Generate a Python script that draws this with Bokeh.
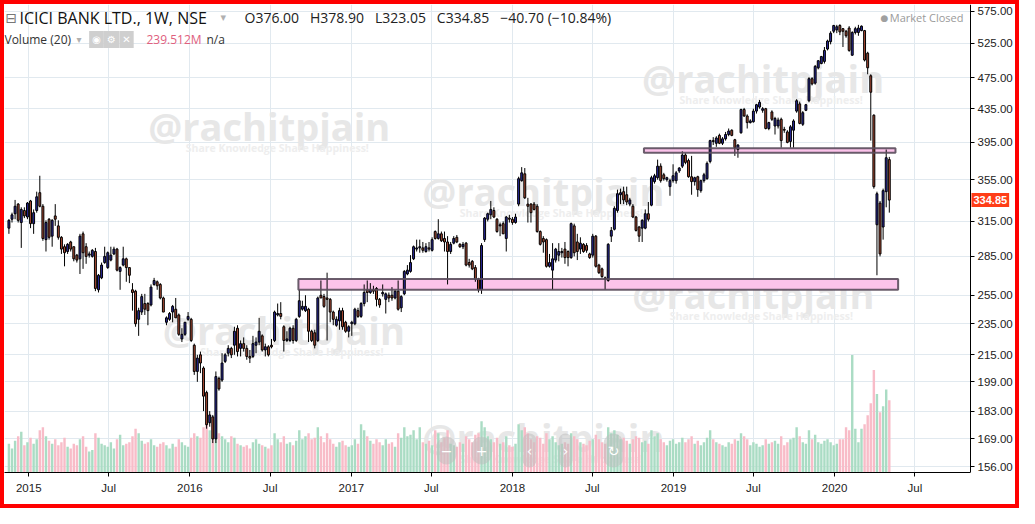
import pandas as pd
from bokeh.plotting import figure
from bokeh.models import (ColumnDataSource, FixedTicker, Range1d, LinearScale, Label,
                          NumeralTickFormatter, BoxAnnotation)
from bokeh.core.properties import value
from bokeh.embed import file_html
from bokeh.resources import INLINE

# ---------------- data (weekly candles, ICICI BANK, NSE) ----------------
opens = [309,317,322,331,314,325,319,334,313,325, 342,329,299,317,302,320,311,301,293,289,
         297,293,286,283,304,293,286,285,289,259, 268,280,276,282,287,291,273,278,283,276,
         259,258,238,243,249,249,248,263,265,263, 253,236,238,243,245,241,225,228,238,238,
         221,205,215,207,193,177,180,169,201,200, 211,216,219,221,232,219,222,219,214,214,
         221,223,227,218,220,221,224,241,242,233, 224,224,232,224,240,245,244,245,230,229,
         224,255,254,253,252,243,234,237,244,236, 230,235,235,244,240,249,259,257,259,260,
         252,256,252,255,255,253,258,246,256,271, 273,283,291,292,292,289,292,290,306,300,
         304,300,297,289,296,301,295,293,296,280, 281,276,267,259,299,317,321,325,317,311,
         313,300,318,317,314,331,354,361,331,331, 331,329,306,300,299,277,274,282,286,288,
         291,289,284,311,297,291,295,294,287,286, 302,278,275,268,266,302,308,325,340,343,
         340,331,329,319,310,309,309,322,330,353, 357,369,360,355,348,354,354,364,369,381,
         375,358,353,358,344,354,356,374,397,394, 403,394,399,404,409,398,387,406,434,426,
         418,419,432,437,433,435,411,431,414,414, 422,410,407,396,409,432,441,416,433,445,
         474,468,489,495,498,516,527,543,545,552, 547,543,548,507,541,541,544,544,510,478,
         427,312,332,310,343,376]
highs = [317,323,335,332,328,328,333,335,326,343, 359,331,316,318,317,331,316,302,295,296,
         298,293,287,304,306,296,289,291,292,271, 280,293,289,293,293,292,277,293,284,276,
         264,259,246,256,256,250,263,268,266,264, 254,240,243,248,253,242,232,236,243,239,
         222,215,217,208,194,183,181,205,202,216, 216,221,220,233,234,224,226,221,218,227,
         226,239,228,222,221,225,244,249,250,234, 230,233,234,239,259,251,255,246,231,231,
         254,266,256,272,253,244,240,246,246,237, 234,237,246,246,250,263,266,264,262,261,
         253,263,257,257,261,259,266,255,274,278, 286,294,299,299,297,296,297,301,307,317,
         306,306,302,297,302,303,296,297,297,283, 282,278,268,296,319,323,334,328,318,314,
         315,320,321,319,322,358,368,367,337,332, 333,331,307,302,300,287,296,292,296,292,
         297,290,314,313,304,301,296,296,288,304, 303,279,276,269,296,310,329,345,346,348,
         348,337,331,320,311,317,326,333,359,361, 376,372,362,358,356,371,364,368,385,383,
         377,380,358,359,355,362,374,398,401,402, 405,401,407,411,410,399,393,435,436,428,
         422,435,441,446,437,436,419,433,425,424, 424,413,409,415,422,447,444,432,441,476,
         476,493,500,506,519,530,543,553,553,554, 548,545,551,543,550,553,552,545,512,480,
         428,343,334,346,387,378.9]
lows = [304,314,317,314,292,318,317,309,304,323, 328,298,289,299,293,311,299,287,277,287,
        289,281,280,271,275,279,284,284,258,257, 267,279,275,281,286,273,259,277,265,264,
        244,233,227,241,241,234,247,262,259,252, 243,234,237,236,239,227,223,227,237,223,
        203,199,204,183,174,175,167,167,194,199, 210,214,213,215,214,214,217,212,210,213,
        216,221,217,214,214,219,223,240,238,217, 223,223,222,223,239,244,243,223,223,219,
        223,253,246,224,236,234,233,231,231,229, 226,227,234,239,239,247,250,256,256,247,
        246,254,242,250,251,252,244,243,255,270, 272,282,289,288,288,288,289,289,299,299,
        297,289,263,287,295,296,292,291,277,276, 274,265,257,256,297,315,317,318,305,302,
        304,289,314,312,313,329,353,336,314,314, 325,305,294,288,276,276,259,280,281,284,
        279,277,283,285,282,287,288,288,283,284, 276,271,268,259,265,297,307,323,331,331,
        330,329,318,306,297,297,308,315,329,351, 355,352,354,353,339,352,351,362,367,371,
        357,340,349,338,342,352,355,372,392,390, 393,392,397,402,402,380,378,405,425,411,
        417,418,429,435,430,410,409,420,404,411, 389,406,394,389,389,430,416,414,432,443,
        465,466,487,494,495,514,523,540,540,537, 519,533,512,506,538,536,543,498,480,397,
        346,270,285,299,328,323.05]
closes = [316,321,329,316,326,320,332,313,323,338, 329,300,314,301,316,317,301,291,288,295,
          291,283,282,302,288,285,287,290,260,270, 278,285,288,286,291,274,276,283,276,270,
          257,235,244,254,245,244,261,266,262,253, 243,239,242,247,239,228,228,236,240,224,
          205,213,210,191,176,181,169,202,195,210, 215,219,215,230,217,222,219,214,213,222,
          223,230,218,220,215,220,243,242,240,224, 225,232,224,238,251,247,247,230,224,221,
          253,253,247,252,243,238,238,244,233,230, 233,236,245,240,249,257,257,259,258,252,
          248,257,256,253,253,258,245,254,273,274, 280,293,292,293,290,293,291,299,300,304,
          298,297,289,295,300,297,293,295,278,278, 275,267,259,294,318,322,326,319,306,312,
          304,319,317,314,319,356,362,337,329,323, 326,306,295,297,277,280,283,291,289,289,
          284,284,313,288,289,296,289,290,284,302, 277,272,269,267,295,307,327,341,342,335,
          333,335,319,307,302,316,322,317,357,359, 369,354,356,357,354,359,362,367,381,373,
          358,353,357,345,354,360,372,397,396,400, 394,399,404,408,403,389,392,434,426,418,
          420,432,440,443,435,411,418,422,423,421, 397,409,395,413,420,445,417,430,440,474,
          467,491,499,505,514,528,540,552,550,542, 543,536,514,541,547,548,551,500,489,456,
          348,341,287,344,378,334.85]
volumes_m = [95,80,105,120,135,90,100,115,95,110, 140,150,120,105,95,110,90,100,115,85,
             80,95,90,110,120,85,70,75,130,115, 95,90,85,100,80,110,125,90,95,100,
             120,145,130,105,95,100,110,90,85,95, 100,90,80,95,85,110,100,90,85,115,
             130,120,115,150,170,140,165,175,130,120, 110,100,120,115,95,90,85,90,80,100,
             110,95,90,85,80,90,130,110,100,120, 95,100,90,105,140,110,120,130,110,115,
             150,120,100,130,110,95,85,100,105,90, 85,90,110,95,160,140,120,105,95,110,
             100,90,110,95,100,85,130,115,150,120, 125,140,110,150,100,95,105,90,140,130,
             100,115,140,95,90,85,100,95,120,110, 100,125,130,170,150,120,110,100,115,95,
             100,120,90,85,95,160,140,150,130,110, 100,120,115,95,130,110,120,100,90,95,
             100,95,130,120,110,100,95,90,105,110, 125,110,100,95,150,130,140,125,110,115,
             105,95,110,120,115,100,105,95,140,120, 130,110,100,90,105,110,95,100,115,100,
             110,120,95,105,90,100,115,140,110,100, 95,90,85,100,95,110,105,130,120,110,
             90,100,95,85,90,110,95,100,105,95, 120,90,100,110,115,150,120,100,95,140,
             110,125,100,95,105,110,100,90,95,110, 110,150,140,390,145,100,145,160,190,230,
             340,260,200,220,275,239.5]
last_week = "2020-05-04"

x_tick_dates = ["2015-01-01", "2015-07-01", "2016-01-01", "2016-07-01", "2017-01-01", "2017-07-01",
                "2018-01-01", "2018-07-01", "2019-01-01", "2019-07-01", "2020-01-01", "2020-07-01"]
x_tick_labels = ["2015", "Jul", "2016", "Jul", "2017", "Jul", "2018", "Jul", "2019", "Jul", "2020", "Jul"]
price_ticks = [156, 169, 183, 199, 215, 235, 255, 285, 315, 355, 395, 435, 475, 525, 575]

# drawn zones (support / resistance)
zone_left = ["2016-09-03", "2018-10-26"]
zone_right = ["2020-05-24", "2020-05-18"]
zone_bottom = [259.1, 383.4]
zone_top = [267.2, 388.5]

# watermarks
wm_dates = ["2016-06-29", "2018-03-12", "2019-07-23", "2016-08-01", "2019-07-01", "2018-03-12"]
wm_prices = [414, 344, 475, 231, 255.6, 170]

# ---------------- helpers ----------------
def ms(s):
    return pd.Timestamp(s).timestamp() * 1000.0

dates = pd.date_range(end=last_week, periods=len(closes), freq="7D")
t = [d.timestamp() * 1000.0 for d in dates]
week = 7 * 24 * 3600 * 1000.0

UP, DOWN = "#29299c", "#ae4c35"
VUP, VDOWN = "#aadcc4", "#f8bcc8"
up = [c >= o for o, c in zip(opens, closes)]
src = ColumnDataSource(dict(
    t=t, o=opens, h=highs, l=lows, c=closes, v=volumes_m,
    top=[max(o, c) for o, c in zip(opens, closes)],
    bot=[min(o, c) for o, c in zip(opens, closes)],
    col=[UP if u else DOWN for u in up],
    vcol=[VUP if u else VDOWN for u in up],
))

CW, FH = 966, 468          # chart (candle area) width, frame height
SCALE_W = 45               # price scale width, inside the frame
FW = CW + SCALE_W
x0, x1 = ms("2014-11-07"), ms("2020-11-04")
x_end = x1 + (x1 - x0) * SCALE_W / CW

p = figure(frame_width=FW, frame_height=FH,
           x_range=Range1d(x0, x_end),
           y_range=Range1d(153.5, 586.2), y_axis_type="log", y_axis_location="right",
           output_backend="svg", toolbar_location=None,
           min_border_left=0, min_border_top=0, min_border_right=0, min_border_bottom=32)
p.styles = {"border": "4px solid #ff0000"}
p.outline_line_color = None
p.background_fill_color = "white"
p.border_fill_color = "white"

p.extra_y_ranges = {"vol": Range1d(0, 1552)}
p.extra_y_scales = {"vol": LinearScale()}

# grid
tick_ms = [ms(d) for d in x_tick_dates]
p.xgrid.ticker = FixedTicker(ticks=tick_ms)
p.ygrid.ticker = FixedTicker(ticks=price_ticks)
p.xgrid.grid_line_color = "#e1e9ef"
p.ygrid.grid_line_color = "#e1e9ef"

# price-scale area (white, covers grid there)
p.add_layout(BoxAnnotation(left=x1, fill_color="white", fill_alpha=1.0, line_alpha=0,
                           level="underlay"))

# axes
p.yaxis.ticker = FixedTicker(ticks=price_ticks)
p.yaxis.formatter = NumeralTickFormatter(format="0.00")
p.yaxis.fixed_location = x1
p.xaxis.ticker = FixedTicker(ticks=tick_ms)
p.xaxis.major_label_overrides = {m: lab for m, lab in zip(tick_ms, x_tick_labels)}
p.xaxis.bounds = (x0, x1)
for ax in (p.xaxis[0], p.yaxis[0]):
    ax.axis_line_color = "black"
    ax.major_tick_line_color = "black"
    ax.major_tick_out = 4
    ax.major_tick_in = 0
    ax.minor_tick_line_color = None
    ax.major_label_text_font = "Liberation Sans"
    ax.major_label_text_font_size = "11.5px"
    ax.major_label_text_color = "#222222"
p.yaxis.major_label_standoff = 3
p.xaxis.major_label_standoff = 5

# watermarks
wm_x = [ms(d) for d in wm_dates]
p.text(x=wm_x, y=wm_prices, text=["@rachitpjain"] * len(wm_x), text_align="center",
       text_baseline="middle", text_font=value("Open Sans"), text_font_style="bold",
       text_font_size="38px", text_color="#e7e7e7")
p.text(x=wm_x, y=wm_prices, text=["Share Knowledge Share Happiness!"] * len(wm_x),
       text_align="center", text_baseline="middle", y_offset=22, x_offset=8,
       text_font=value("Open Sans"), text_font_style="bold", text_font_size="10.5px",
       text_color="#eeeeee")

# volume
p.vbar(x="t", top="v", bottom=0, width=week * 0.78, y_range_name="vol",
       fill_color="vcol", line_color=None, source=src)

# zones fill
zl = [ms(d) for d in zone_left]
zr = [ms(d) for d in zone_right]
p.quad(left=zl, right=zr, bottom=zone_bottom, top=zone_top, fill_color="#fbc3ea",
       line_color=None)

# candles
p.segment(x0="t", y0="l", x1="t", y1="h", line_color="black", line_width=1, source=src)
p.vbar(x="t", top="top", bottom="bot", width=week * 0.62, fill_color="col",
       line_color="black", line_width=1, source=src)

# zones outline
p.quad(left=zl, right=zr, bottom=zone_bottom, top=zone_top, fill_color=None,
       line_color="#5a4c5c", line_width=2, line_alpha=0.9)

# last price tag on the price scale
p.add_layout(Label(x=x1, y=closes[-1], x_units="data", y_units="data", x_offset=1,
                   text=f"{closes[-1]:.2f}", text_align="left", text_baseline="middle",
                   text_font="Liberation Sans", text_font_size="11px", text_font_style="bold",
                   text_color="white", background_fill_color="#ff3d17", padding=(2, 3)))

def lab(x, y, text, size="12px", color="#222222", font="Open Sans", align="left", **kw):
    p.add_layout(Label(x=x, y=FH - y, x_units="screen", y_units="screen", text=text,
                       text_align=align, text_baseline="middle", text_font=font,
                       text_font_size=size, text_color=color, **kw))

NB = "\u00a0"
# header
lab(1, 13, "\u229f", size="14px", color="#777777", font="DejaVu Sans")
lab(15, 13, "ICICI BANK LTD., 1W, NSE", size="16px", color="#111111")
lab(216, 13, "\u25be", size="11px", color="#b0b0b0", font="DejaVu Sans")
lab(240, 13, (NB * 3).join(["O376.00", "H378.90", "L323.05", "C334.85",
                            "\u221240.70" + NB + "(\u221210.84%)"]),
    size="14px", color="#222222")
lab(0, 35, "Volume (20)", size="12px", color="#333333")
lab(72, 35, "\u25be", size="10px", color="#b0b0b0", font="DejaVu Sans")
for i, g in enumerate(["\u25c9", "\u2699", "\u2715"]):
    lab(92 + 15 * i, 35, g, size="10px", color="white", font="DejaVu Sans", align="center",
        background_fill_color="#cfcfcf", padding=3)
lab(142, 35, "239.512M", size="12px", color="#e0607e")
lab(202, 35, "n/a", size="12px", color="#333333")
lab(CW - 90, 13, "\u25cf", size="9px", color="#a0a0a0", font="DejaVu Sans")
lab(CW - 7, 13, "Market Closed", size="11px", color="#9a9a9a", align="right")

# navigation buttons
for bx, g in zip([442, 477, 525, 561, 609], ["\u2212", "+", "\u2039", "\u203a", "\u21bb"]):
    p.add_layout(Label(x=bx, y=22, x_units="screen", y_units="screen", text=g,
                       text_align="center", text_baseline="middle", text_font="DejaVu Sans",
                       text_font_size="14px", text_color="white",
                       background_fill_color="#bcbcbc", background_fill_alpha=0.5,
                       border_radius=13, padding=(4, 9)))

open("out.html", "w").write(file_html(p, INLINE))
